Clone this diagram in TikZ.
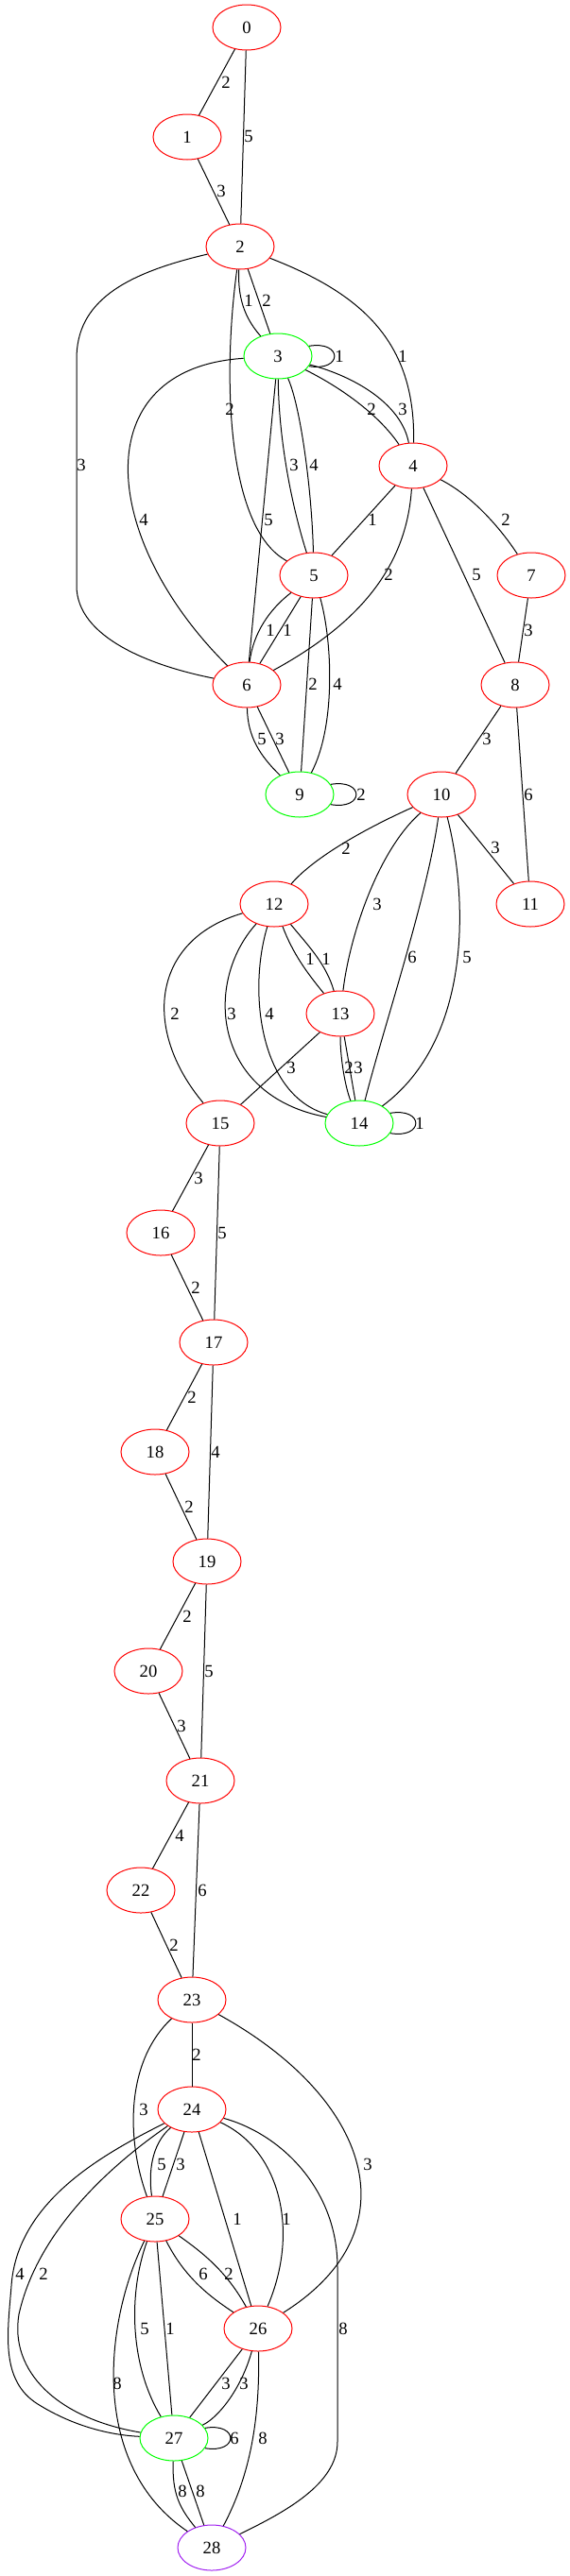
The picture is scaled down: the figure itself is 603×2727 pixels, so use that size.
\documentclass[tikz,border=0pt]{standalone}
\usepackage{fontspec}
\setmainfont{Liberation Serif}
\usetikzlibrary{shapes.geometric}
\definecolor{vred}{RGB}{255,0,0}
\definecolor{vgreen}{RGB}{0,255,0}
\definecolor{vpurple}{RGB}{160,32,240}
\tikzstyle{every vertex} = [ellipse, minimum width=54pt, minimum height=36pt, inner sep=0pt, line width=0.75pt, font=\fontsize{14}{16}\selectfont]
\tikzstyle{vertex} = [draw=vred, every vertex]
\tikzstyle{goal} = [draw=vgreen, every vertex]
\tikzstyle{endvert} = [draw=vpurple, every vertex]
\tikzstyle{wt} = [inner sep=0pt, font=\fontsize{14}{16}\selectfont]
\tikzstyle{wire} = [draw, line width=0.75pt]

\begin{document}
\begin{tikzpicture}[x=0.75pt, y=0.75pt]
        \useasboundingbox (0,0) rectangle (603,-2727);

        \node[vertex] (n0) at (261,-29) {0};
        \node[vertex] (n1) at (198,-145) {1};
        \node[vertex] (n2) at (254,-261) {2};
        \node[goal] (n3) at (294,-377) {3};
        \node[vertex] (n4) at (437,-493) {4};
        \node[vertex] (n5) at (332,-609) {5};
        \node[vertex] (n6) at (261,-725) {6};
        \node[vertex] (n7) at (562,-609) {7};
        \node[vertex] (n8) at (545,-725) {8};
        \node[goal] (n9) at (317,-841) {9};
        \node[vertex] (n10) at (467,-841) {10};
        \node[vertex] (n11) at (561,-957) {11};
        \node[vertex] (n12) at (290,-957) {12};
        \node[vertex] (n13) at (360,-1073) {13};
        \node[goal] (n14) at (380,-1189) {14};
        \node[vertex] (n15) at (233,-1189) {15};
        \node[vertex] (n16) at (170,-1305) {16};
        \node[vertex] (n17) at (226,-1421) {17};
        \node[vertex] (n18) at (164,-1537) {18};
        \node[vertex] (n19) at (219,-1653) {19};
        \node[vertex] (n20) at (157,-1769) {20};
        \node[vertex] (n21) at (212,-1885) {21};
        \node[vertex] (n22) at (149,-2001) {22};
        \node[vertex] (n23) at (203,-2117) {23};
        \node[vertex] (n24) at (203,-2233) {24};
        \node[vertex] (n25) at (164,-2349) {25};
        \node[vertex] (n26) at (273,-2465) {26};
        \node[goal] (n27) at (184,-2581) {27};
        \node[endvert] (n28) at (224,-2697) {28};

        % upper block
        \draw[wire] (n0) -- (n1) node[wt] (w1) at (239,-87) {2};
        \draw[wire] (n0) -- (n2) node[wt] (w2) at (263,-144) {5};
        \draw[wire] (n1) -- (n2) node[wt] (w3) at (234,-202) {3};
        \draw[wire] (n2) .. controls (251,-320) and (262,-340) .. (n3) node[wt] (w4) at (263,-318) {1};
        \draw[wire] (n2) -- (n3) node[wt] (w5) at (282,-318) {2};
        \draw[wire] (n2) .. controls (380,-310) and (440,-360) .. (n4) node[wt] (w6) at (426,-377) {1};
        \draw[wire] (n2) .. controls (235,-400) and (240,-560) .. (n5) node[wt] (w7) at (243,-433) {2};
        \draw[wire] (n2) .. controls (130,-290) and (81,-320) .. (81,-380) -- (81,-620) .. controls (81,-675) and (160,-705) .. (n6) node[wt] (w8) at (86,-492) {3};
        \draw[wire] (n3.18) .. controls +(36,6) and +(36,-6) .. (n3.-18) node[wt] (w9) at (359,-377) {1};
        \draw[wire] (n3) .. controls (370,-415) and (405,-445) .. (n4) node[wt] (w10) at (393,-433) {2};
        \draw[wire] (n3) .. controls (380,-400) and (425,-430) .. (n4) node[wt] (w11) at (426,-433) {3};
        \draw[wire] (n3) .. controls (295,-470) and (310,-540) .. (n5) node[wt] (w12) at (311,-492) {3};
        \draw[wire] (n3) .. controls (318,-430) and (330,-520) .. (n5) node[wt] (w13) at (332,-492) {4};
        \draw[wire] (n3) -- (n6) node[wt] (w14) at (284,-550) {5};
        \draw[wire] (n3) .. controls (90,-390) and (105,-570) .. (n6) node[wt] (w15) at (152,-550) {4};
        \draw[wire] (n4) -- (n5) node[wt] (w16) at (394,-550) {1};
        \draw[wire] (n4) .. controls (430,-600) and (380,-660) .. (n6) node[wt] (w17) at (411,-608) {2};
        \draw[wire] (n4) .. controls (500,-525) and (530,-560) .. (n7) node[wt] (w18) at (535,-550) {2};
        \draw[wire] (n4) -- (n8) node[wt] (w19) at (504,-608) {5};
        \draw[wire] (n5) .. controls (285,-645) and (268,-670) .. (n6) node[wt] (w20) at (286,-667) {1};
        \draw[wire] (n5) -- (n6) node[wt] (w21) at (304,-667) {1};
        \draw[wire] (n5) -- (n9) node[wt] (w22) at (331,-724) {2};
        \draw[wire] (n5) .. controls (352,-680) and (355,-770) .. (n9) node[wt] (w23) at (357,-724) {4};
        \draw[wire] (n6) .. controls (262,-780) and (275,-800) .. (n9) node[wt] (w24) at (277,-782) {5};
        \draw[wire] (n6) -- (n9) node[wt] (w25) at (296,-782) {3};
        \draw[wire] (n7) -- (n8) node[wt] (w26) at (559,-667) {3};
        \draw[wire] (n8) -- (n10) node[wt] (w27) at (515,-782) {3};
        \draw[wire] (n8) -- (n11) node[wt] (w28) at (559,-841) {6};
        \draw[wire] (n9.18) .. controls +(36,6) and +(36,-6) .. (n9.-18) node[wt] (w29) at (382,-841) {2};

        % middle block
        \draw[wire] (n10) -- (n11) node[wt] (w30) at (524,-897) {3};
        \draw[wire] (n10) .. controls (380,-880) and (330,-910) .. (n12) node[wt] (w31) at (366,-898) {2};
        \draw[wire] (n10) .. controls (400,-900) and (370,-990) .. (n13) node[wt] (w32) at (399,-957) {3};
        \draw[wire] (n10) .. controls (452,-950) and (405,-1090) .. (n14) node[wt] (w33) at (436,-1013) {6};
        \draw[wire] (n10) .. controls (495,-950) and (500,-1100) .. (n14) node[wt] (w34) at (494,-1013) {5};
        \draw[wire] (n12) .. controls (310,-1010) and (325,-1030) .. (n13) node[wt] (w35) at (328,-1015) {1};
        \draw[wire] (n12) .. controls (325,-1000) and (345,-1020) .. (n13) node[wt] (w36) at (345,-1015) {1};
        \draw[wire] (n12) .. controls (215,-1040) and (225,-1160) .. (n14) node[wt] (w37) at (245,-1073) {3};
        \draw[wire] (n12) .. controls (262,-1050) and (275,-1160) .. (n14) node[wt] (w38) at (285,-1073) {4};
        \draw[wire] (n12) .. controls (160,-995) and (150,-1090) .. (n15) node[wt] (w39) at (185,-1073) {2};
        \draw[wire] (n13) .. controls (360,-1120) and (365,-1150) .. (n14) node[wt] (w40) at (369,-1130) {2};
        \draw[wire] (n13) -- (n14) node[wt] (w41) at (379,-1130) {3};
        \draw[wire] (n13) -- (n15) node[wt] (w42) at (308,-1130) {3};
        \draw[wire] (n14.18) .. controls +(36,6) and +(36,-6) .. (n14.-18) node[wt] (w43) at (444,-1189) {1};

        % chain
        \draw[wire] (n15) -- (n16) node[wt] (w44) at (210,-1247) {3};
        \draw[wire] (n15) -- (n17) node[wt] (w45) at (235,-1305) {5};
        \draw[wire] (n16) -- (n17) node[wt] (w46) at (207,-1363) {2};
        \draw[wire] (n17) -- (n18) node[wt] (w47) at (203,-1479) {2};
        \draw[wire] (n17) -- (n19) node[wt] (w48) at (228,-1537) {4};
        \draw[wire] (n18) -- (n19) node[wt] (w49) at (200,-1595) {2};
        \draw[wire] (n19) -- (n20) node[wt] (w50) at (198,-1711) {2};
        \draw[wire] (n19) -- (n21) node[wt] (w51) at (221,-1769) {5};
        \draw[wire] (n20) -- (n21) node[wt] (w52) at (192,-1827) {3};
        \draw[wire] (n21) -- (n22) node[wt] (w53) at (190,-1943) {4};
        \draw[wire] (n21) -- (n23) node[wt] (w54) at (214,-2001) {6};
        \draw[wire] (n22) -- (n23) node[wt] (w55) at (184,-2059) {2};
        \draw[wire] (n23) -- (n24) node[wt] (w56) at (208,-2175) {2};

        % lower block
        \draw[wire] (n23) .. controls (135,-2180) and (132,-2260) .. (n25) node[wt] (w57) at (152,-2233) {3};
        \draw[wire] (n23) .. controls (390,-2220) and (440,-2360) .. (n26) node[wt] (w58) at (389,-2291) {3};
        \draw[wire] (n24) .. controls (160,-2270) and (157,-2300) .. (n25) node[wt] (w59) at (171,-2291) {5};
        \draw[wire] (n24) -- (n25) node[wt] (w60) at (191,-2291) {3};
        \draw[wire] (n24) -- (n26) node[wt] (w61) at (251,-2349) {1};
        \draw[wire] (n24) .. controls (295,-2275) and (318,-2360) .. (n26) node[wt] (w62) at (303,-2349) {1};
        \draw[wire] (n24) .. controls (110,-2280) and (18,-2330) .. (12,-2420) .. controls (8,-2470) and (0,-2520) .. (40,-2545) .. controls (80,-2570) and (120,-2578) .. (n27) node[wt] (w63) at (21,-2407) {4};
        \draw[wire] (n24) .. controls (120,-2290) and (40,-2360) .. (20,-2450) .. controls (10,-2510) and (60,-2560) .. (n27) node[wt] (w64) at (46,-2407) {2};
        \draw[wire] (n24) .. controls (300,-2260) and (357,-2320) .. (357,-2400) -- (357,-2585) .. controls (357,-2630) and (300,-2660) .. (n28) node[wt] (w65) at (363,-2465) {8};
        \draw[wire] (n25) .. controls (195,-2410) and (220,-2430) .. (n26) node[wt] (w66) at (215,-2407) {6};
        \draw[wire] (n25) .. controls (215,-2385) and (240,-2405) .. (n26) node[wt] (w67) at (242,-2407) {2};
        \draw[wire] (n25) .. controls (135,-2430) and (138,-2505) .. (n27) node[wt] (w68) at (153,-2465) {5};
        \draw[wire] (n25) -- (n27) node[wt] (w69) at (180,-2465) {1};
        \draw[wire] (n25) .. controls (110,-2460) and (95,-2610) .. (n28) node[wt] (w70) at (124,-2523) {8};
        \draw[wire] (n26) -- (n27) node[wt] (w71) at (239,-2523) {3};
        \draw[wire] (n26) .. controls (255,-2530) and (230,-2560) .. (n27) node[wt] (w72) at (258,-2523) {3};
        \draw[wire] (n26) .. controls (275,-2560) and (265,-2620) .. (n28) node[wt] (w73) at (278,-2581) {8};
        \draw[wire] (n27.18) .. controls +(36,6) and +(36,-6) .. (n27.-18) node[wt] (w74) at (248,-2581) {6};
        \draw[wire] (n27) .. controls (182,-2640) and (190,-2655) .. (n28) node[wt] (w75) at (193,-2637) {8};
        \draw[wire] (n27) -- (n28) node[wt] (w76) at (212,-2637) {8};
\end{tikzpicture}
\end{document}
